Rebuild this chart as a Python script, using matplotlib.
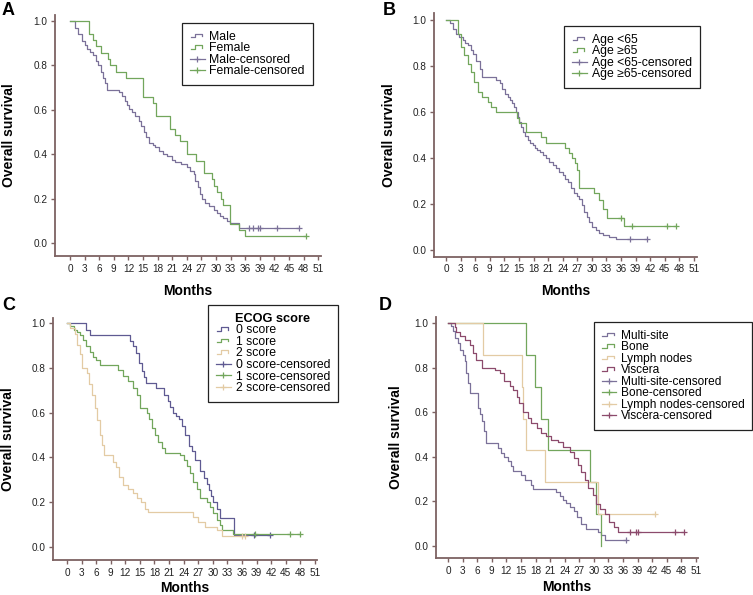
import numpy as np
import matplotlib
matplotlib.use("Agg")
import matplotlib.pyplot as plt
from matplotlib.lines import Line2D
from matplotlib.legend_handler import HandlerBase

plt.rcParams['font.family'] = ['Liberation Sans', 'DejaVu Sans']

# ---- Panel A: sex ----
male_t = [0, 1.0, 1.7, 2.4, 3.0, 3.4, 4.2, 4.8, 5.3, 5.8, 6.3, 6.7, 7.1, 7.5, 10.0, 10.6,
          11.2, 11.7, 12.2, 12.7, 13.4, 14.1, 14.6, 15.1, 15.7, 16.3, 17.0, 17.5, 18.3, 19.2,
          20.0, 20.9, 21.6, 22.8, 24.0, 24.7, 25.4, 25.7, 26.2, 26.7, 27.2, 27.8, 28.6, 29.5,
          30.2, 30.8, 31.5, 32.2, 32.9, 34.8]
male_s = [1.0, 0.97, 0.94, 0.91, 0.89, 0.875, 0.86, 0.845, 0.82, 0.80, 0.77, 0.745, 0.72, 0.69,
          0.68, 0.66, 0.64, 0.62, 0.605, 0.59, 0.57, 0.55, 0.525, 0.50, 0.475, 0.45, 0.44, 0.43,
          0.415, 0.40, 0.39, 0.375, 0.365, 0.355, 0.34, 0.325, 0.31, 0.28, 0.25, 0.22, 0.20,
          0.18, 0.165, 0.15, 0.135, 0.12, 0.11, 0.10, 0.088, 0.065]
male_cens = [36.7, 37.5, 38.7, 39.1, 42.5, 47.0]

female_t = [0, 4.0, 4.8, 5.3, 6.3, 7.75, 8.2, 9.5, 11.5, 15.0, 17.0, 17.7, 20.6, 21.6, 22.5,
            24.0, 25.8, 27.6, 29.1, 29.6, 30.1, 31.0, 31.5, 32.9, 34.8, 36.0]
female_s = [1.0, 0.943, 0.914, 0.886, 0.857, 0.829, 0.80, 0.771, 0.743, 0.657, 0.629, 0.571,
            0.514, 0.486, 0.457, 0.40, 0.371, 0.314, 0.286, 0.257, 0.229, 0.20, 0.171, 0.086,
            0.057, 0.029]
female_cens = [48.5]

# ---- Panel B: age ----
young_t = [0, 0.8, 1.5, 2.1, 2.7, 3.4, 4.0, 4.5, 5.1, 5.6, 6.2, 6.9, 7.5, 10.3, 11.0, 11.6,
           12.2, 12.7, 13.2, 13.6, 14.0, 14.4, 14.8, 15.1, 15.5, 15.8, 16.3, 16.8, 17.3, 17.8,
           18.3, 18.8, 19.4, 19.9, 20.5, 21.2, 21.9, 22.6, 23.3, 24.0, 24.5, 25.0, 25.7, 26.4,
           26.9, 27.4, 27.9, 28.4, 29.0, 29.5, 30.1, 30.8, 31.5, 32.2, 33.5, 34.9]
young_s = [1.0, 0.985, 0.96, 0.94, 0.927, 0.913, 0.90, 0.89, 0.87, 0.85, 0.82, 0.785, 0.75,
           0.74, 0.725, 0.70, 0.68, 0.667, 0.65, 0.638, 0.62, 0.60, 0.58, 0.558, 0.535, 0.515,
           0.495, 0.478, 0.467, 0.457, 0.445, 0.435, 0.425, 0.413, 0.40, 0.384, 0.37, 0.355,
           0.34, 0.326, 0.31, 0.297, 0.27, 0.25, 0.235, 0.22, 0.195, 0.167, 0.145, 0.122, 0.10,
           0.087, 0.072, 0.065, 0.058, 0.046]
young_cens = [37.8, 41.4]

old_t = [0, 2.5, 3.1, 3.8, 4.5, 5.1, 5.8, 6.5, 7.5, 8.6, 9.2, 10.3, 14.6, 15.0, 16.5, 19.5,
         20.5, 24.5, 25.2, 26.0, 26.6, 27.0, 27.4, 30.4, 31.4, 32.2, 33.2, 36.6]
old_s = [1.0, 0.94, 0.884, 0.848, 0.81, 0.775, 0.73, 0.688, 0.667, 0.645, 0.623, 0.60, 0.575,
         0.55, 0.514, 0.49, 0.467, 0.445, 0.42, 0.40, 0.377, 0.35, 0.268, 0.246, 0.217, 0.18,
         0.138, 0.106]
old_cens = [35.9, 38.2, 45.5, 47.3]

# ---- Panel C: ECOG score ----
ecog0_t = [0, 4.0, 4.8, 12.9, 13.6, 14.3, 14.9, 15.4, 15.9, 16.3, 18.4, 19.9, 20.7, 21.2,
           21.9, 22.5, 23.1, 23.6, 24.3, 25.0, 25.7, 26.4, 27.4, 28.2, 28.8, 29.2, 29.6, 30.1,
           30.8, 31.5, 34.4]
ecog0_s = [1.0, 0.97, 0.945, 0.918, 0.896, 0.866, 0.82, 0.784, 0.76, 0.732, 0.71, 0.68, 0.65,
           0.625, 0.60, 0.585, 0.57, 0.54, 0.50, 0.45, 0.43, 0.39, 0.34, 0.31, 0.28, 0.255,
           0.23, 0.20, 0.17, 0.13, 0.052]
ecog0_cens = [38.4, 41.8]

ecog1_t = [0, 0.7, 1.4, 2.1, 2.6, 3.3, 4.0, 4.7, 5.3, 6.0, 6.7, 10.5, 11.5, 12.5, 13.6, 14.4,
           15.1, 16.4, 16.8, 17.5, 18.2, 18.8, 19.5, 20.2, 23.3, 24.0, 24.7, 25.3, 26.0, 26.7,
           27.4, 28.8, 29.5, 30.1, 30.8, 31.5, 31.8, 34.2]
ecog1_s = [1.0, 0.985, 0.97, 0.96, 0.947, 0.925, 0.896, 0.872, 0.85, 0.836, 0.814, 0.79,
           0.762, 0.74, 0.71, 0.68, 0.62, 0.60, 0.57, 0.53, 0.50, 0.47, 0.44, 0.42, 0.41,
           0.39, 0.36, 0.33, 0.29, 0.26, 0.22, 0.20, 0.18, 0.15, 0.12, 0.10, 0.075, 0.06]
ecog1_cens = [38.7, 45.9, 47.9]

ecog2_t = [0, 0.7, 1.7, 2.1, 2.7, 3.1, 4.1, 4.5, 5.1, 5.8, 6.2, 6.8, 7.2, 7.6, 9.4, 10.1,
           10.8, 11.5, 12.5, 13.6, 14.5, 15.3, 16.1, 16.6, 25.9, 27.0, 28.4, 30.8, 31.8]
ecog2_s = [1.0, 0.98, 0.95, 0.90, 0.86, 0.80, 0.776, 0.73, 0.68, 0.62, 0.567, 0.50, 0.455,
           0.41, 0.38, 0.358, 0.313, 0.276, 0.26, 0.24, 0.22, 0.20, 0.17, 0.157, 0.134, 0.11,
           0.09, 0.075, 0.047]
ecog2_cens = [36.0, 36.6]

# ---- Panel D: metastatic site ----
multi_t = [0, 0.6, 1.0, 1.4, 2.1, 2.4, 3.1, 3.4, 3.8, 4.1, 4.5, 6.2, 6.5, 6.9, 7.4, 7.75,
           10.3, 11.0, 11.6, 12.3, 13.0, 13.4, 15.1, 15.8, 17.1, 17.5, 22.3, 23.0, 23.7, 24.3,
           25.0, 26.0, 26.5, 27.4, 28.4, 30.8, 31.5, 32.2]
multi_s = [1.0, 0.985, 0.963, 0.933, 0.91, 0.88, 0.858, 0.828, 0.775, 0.73, 0.686, 0.619,
           0.59, 0.56, 0.514, 0.462, 0.44, 0.417, 0.40, 0.38, 0.357, 0.335, 0.32, 0.298,
           0.275, 0.255, 0.24, 0.223, 0.208, 0.193, 0.175, 0.155, 0.13, 0.10, 0.078, 0.063,
           0.048, 0.025]
multi_cens = [36.6]

bone_t = [0, 16.1, 17.8, 19.1, 20.6, 29.3, 30.5, 31.5]
bone_s = [1.0, 0.857, 0.714, 0.571, 0.429, 0.286, 0.143, 0.0]
bone_cens = []

lymph_t = [0, 7.1, 15.2, 15.5, 16.0, 19.9, 30.8]
lymph_s = [1.0, 0.857, 0.714, 0.571, 0.429, 0.286, 0.143]
lymph_cens = [42.5]

visc_t = [0, 1.4, 1.7, 2.4, 3.4, 4.5, 5.1, 5.8, 6.9, 9.6, 10.6, 11.6, 12.7, 13.4, 14.1, 14.7,
          15.4, 16.5, 17.1, 18.2, 19.2, 20.2, 21.2, 22.6, 23.6, 25.0, 26.0, 26.7, 27.4, 28.1,
          28.8, 29.8, 30.5, 31.2, 32.2, 33.2, 34.2, 34.9]
visc_s = [1.0, 0.98, 0.96, 0.94, 0.925, 0.90, 0.865, 0.835, 0.80, 0.79, 0.776, 0.738, 0.716,
          0.70, 0.67, 0.64, 0.60, 0.574, 0.55, 0.53, 0.507, 0.492, 0.477, 0.468, 0.445, 0.423,
          0.393, 0.363, 0.333, 0.295, 0.258, 0.228, 0.19, 0.168, 0.145, 0.108, 0.085, 0.065]
visc_cens = [37.5, 38.7, 39.0, 46.6, 48.6]

PURPLE = '#7b7199'
GREEN = '#72a65c'
TAN = '#e3cba4'
VISC = '#8c4a6c'
DPURPLE = '#5f5a92'
SPINE = '#7d6262'
XTICKS = list(range(0, 52, 3))
YTICKS = [0.0, 0.2, 0.4, 0.6, 0.8, 1.0]


class StepLine(Line2D):
    pass


class StepHandler(HandlerBase):
    def create_artists(self, legend, orig_handle, xdescent, ydescent, width, height,
                       fontsize, trans):
        xs = np.array([0.05, 0.35, 0.35, 0.85, 0.85]) * width - xdescent
        ys = np.array([0.3, 0.3, 0.72, 0.72, 0.45]) * height - ydescent
        ln = Line2D(xs, ys, color=orig_handle.get_color(), lw=0.9)
        ln.set_transform(trans)
        return [ln]


def km(ax, t, s, cens, color):
    t = list(t)
    s = list(s)
    end = max([t[-1]] + list(cens))
    ax.step(t + [end], s + [s[-1]], where='post', color=color, lw=0.9)
    if cens:
        idx = np.searchsorted(t, cens, side='right') - 1
        ax.plot(cens, np.array(s)[idx], '+', color=color, ms=4.5, mew=0.9, ls='none')


def style(ax, xlim, ylim, ylab_x, xlab_y):
    ax.set_xlim(*xlim)
    ax.set_ylim(*ylim)
    ax.set_xticks(XTICKS)
    ax.set_yticks(YTICKS)
    ax.set_yticklabels([f'{v:.1f}' for v in YTICKS])
    for side in ('top', 'right'):
        ax.spines[side].set_visible(False)
    for side in ('left', 'bottom'):
        ax.spines[side].set_color(SPINE)
        ax.spines[side].set_linewidth(1.3)
    ax.tick_params(direction='out', length=3, width=1.0, color=SPINE,
                   labelsize=7.2, labelcolor='#222222', pad=2.5)
    ax.set_ylabel('Overall survival', fontsize=10, fontweight='bold')
    ax.set_xlabel('Months', fontsize=10, fontweight='bold')
    ax.yaxis.set_label_coords(ylab_x, 0.5)
    ax.xaxis.set_label_coords(0.5, xlab_y)


def add_legend(ax, labels, colors, anchor, fs=8.8, title=None):
    W, H = 753.0, 595.0
    handles = [StepLine([], [], color=c) for c in colors]
    handles += [Line2D([], [], color=c, marker='+', ms=5, mew=0.9, lw=0.9) for c in colors]
    labs = list(labels) + [f'{l}-censored' for l in labels]
    leg = ax.legend(handles, labs, loc='upper left',
                    bbox_to_anchor=(anchor[0] / W, 1 - anchor[1] / H),
                    bbox_transform=ax.figure.transFigure, fontsize=fs,
                    handler_map={StepLine: StepHandler()}, handlelength=1.2,
                    handletextpad=0.4, labelspacing=-0.04, borderpad=0.65,
                    frameon=True, fancybox=False, framealpha=1, edgecolor='#222222',
                    borderaxespad=0, title=title,
                    title_fontproperties={'weight': 'bold', 'size': 9.2})
    leg.get_frame().set_linewidth(0.9)
    return leg


W, H = 753.0, 595.0
fig = plt.figure(figsize=(7.53, 5.95), dpi=100)


def make_ax(left, right, top, bottom):
    return fig.add_axes([left / W, 1 - bottom / H, (right - left) / W, (bottom - top) / H])


axA = make_ax(55, 320.7, 15, 256)
axB = make_ax(434, 696.7, 13.3, 256.7)
axC = make_ax(53, 317.3, 317.7, 560)
axD = make_ax(436, 697.7, 316.7, 558.3)

# A
km(axA, male_t, male_s, male_cens, PURPLE)
km(axA, female_t, female_s, female_cens, GREEN)
style(axA, (-3.08, 51.5), (-0.059, 1.027), -0.147, -0.116)
add_legend(axA, ['Male', 'Female'], [PURPLE, GREEN], (182, 23))

# B
km(axB, young_t, young_s, young_cens, PURPLE)
km(axB, old_t, old_s, old_cens, GREEN)
style(axB, (-2.47, 51.55), (-0.029, 1.029), -0.145, -0.112)
add_legend(axB, ['Age <65', 'Age \u226565'], [PURPLE, GREEN], (564, 26))

# C
km(axC, ecog0_t, ecog0_s, ecog0_cens, DPURPLE)
km(axC, ecog1_t, ecog1_s, ecog1_cens, GREEN)
km(axC, ecog2_t, ecog2_s, ecog2_cens, TAN)
style(axC, (-2.88, 51.5), (-0.058, 1.024), -0.144, -0.086)
add_legend(axC, ['0 score', '1 score', '2 score'], [DPURPLE, GREEN, TAN], (208, 305),
           title='ECOG score')

# D
km(axD, multi_t, multi_s, multi_cens, PURPLE)
km(axD, bone_t, bone_s, bone_cens, GREEN)
km(axD, lymph_t, lymph_s, lymph_cens, TAN)
km(axD, visc_t, visc_s, visc_cens, VISC)
style(axD, (-2.47, 51.35), (-0.055, 1.028), -0.127, -0.09)
add_legend(axD, ['Multi-site', 'Bone', 'Lymph nodes', 'Viscera'],
           [PURPLE, GREEN, TAN, VISC], (594, 322), fs=8.6)

for letter, x, y in [('A', 2, 2), ('B', 383, 2), ('C', 2, 297), ('D', 379, 297)]:
    fig.text(x / W, 1 - y / H, letter, fontsize=13, fontweight='bold', ha='left', va='top')

fig.savefig('out.png', dpi=100)
